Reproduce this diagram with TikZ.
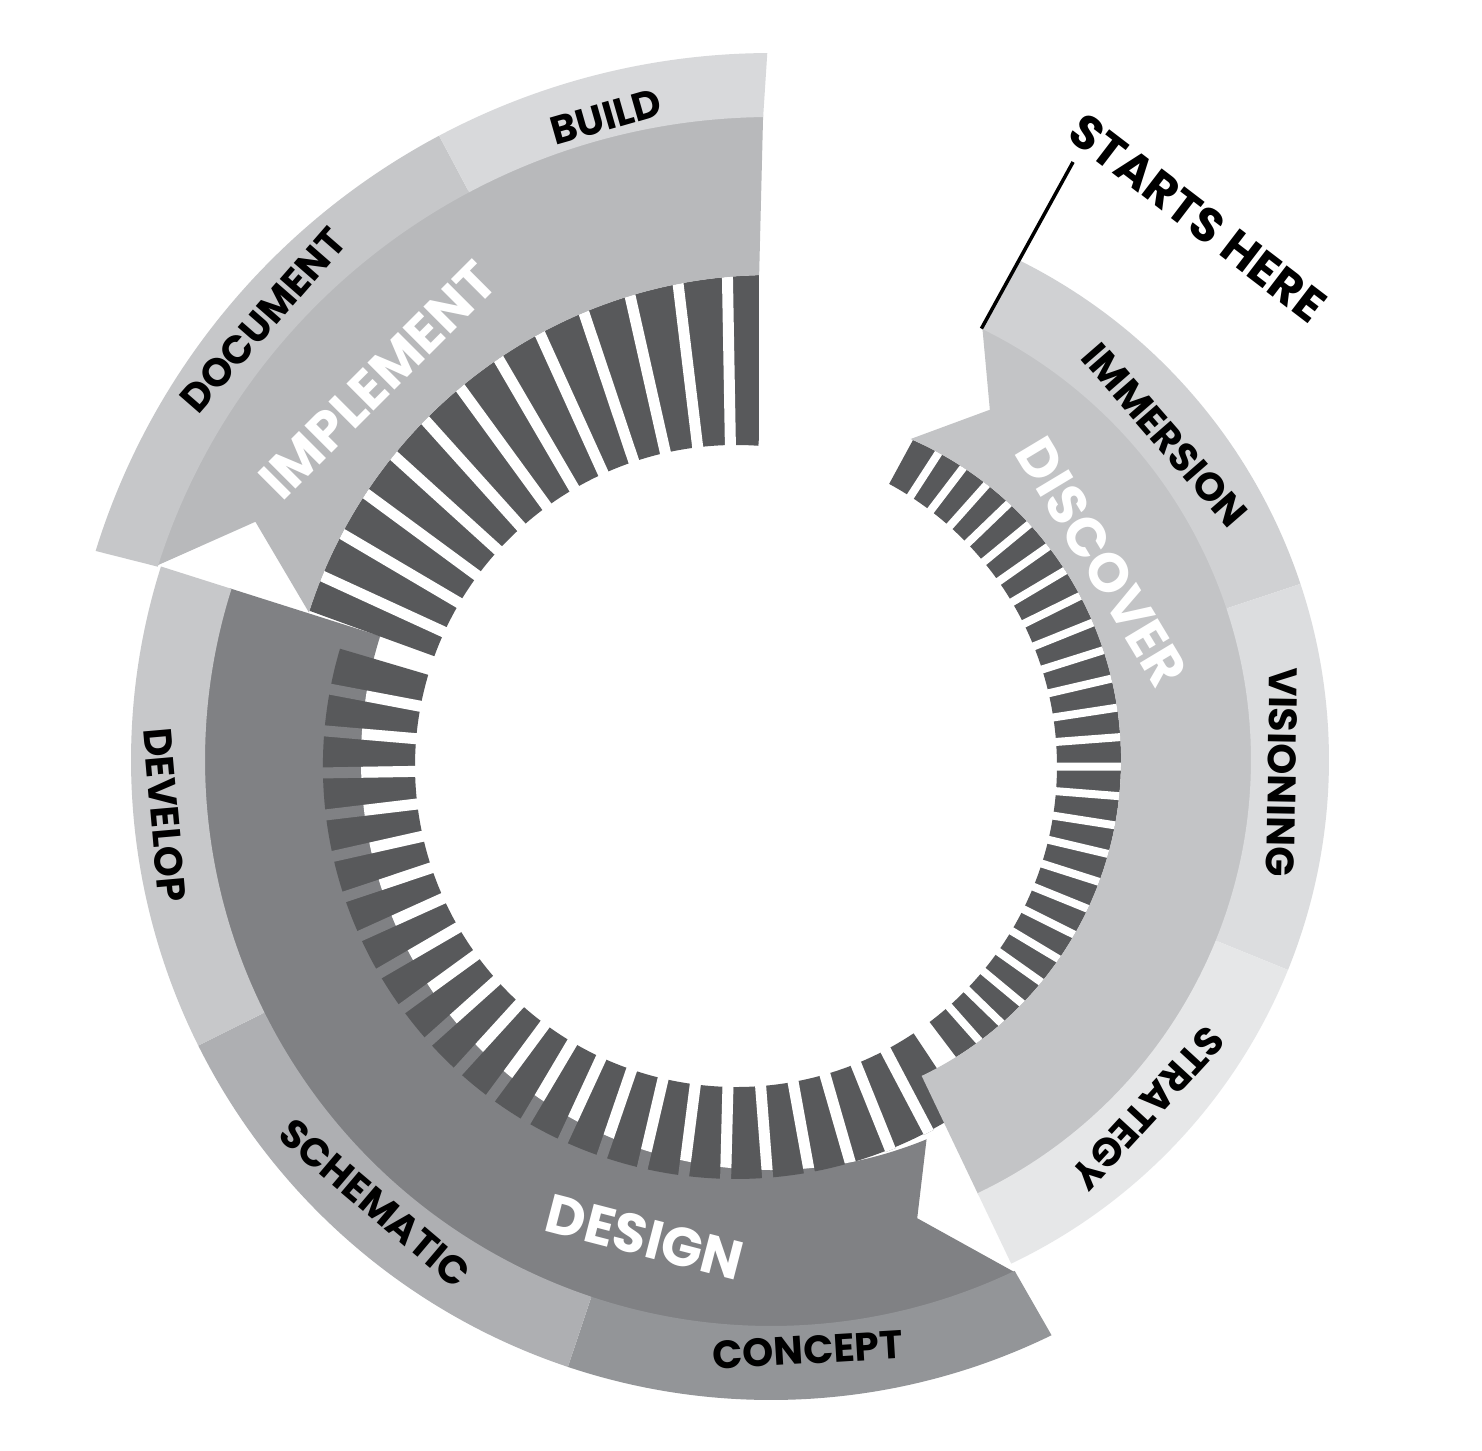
\documentclass[tikz,border=0pt]{standalone}
\usepackage{fontspec}
\setmainfont{Poppins}
\definecolor{barcol}{HTML}{58595B}
\definecolor{discovercol}{HTML}{C3C4C6}
\definecolor{immersioncol}{HTML}{D0D1D3}
\definecolor{visioningcol}{HTML}{DCDDDF}
\definecolor{strategycol}{HTML}{E6E7E8}
\definecolor{designcol}{HTML}{808184}
\definecolor{conceptcol}{HTML}{939598}
\definecolor{schematiccol}{HTML}{AEAFB2}
\definecolor{developcol}{HTML}{C7C8CA}
\definecolor{implementcol}{HTML}{B8B9BB}
\definecolor{documentcol}{HTML}{C6C7C9}
\definecolor{buildcol}{HTML}{D8D9DB}
\begin{document}
\begin{tikzpicture}[x=0.02cm, y=0.02cm,
    phase/.style={font=\bfseries\fontsize{31}{31}\selectfont, text=white, inner sep=0pt},
    stage/.style={font=\bfseries\fontsize{22.5}{22.5}\selectfont, text=black, inner sep=0pt}]
    \fill[white] (-771,-691) rectangle (711,760);

    % design
    \fill[designcol] (-64.5:568) -- (-72.3:481) -- (-67.7:410) arc[start angle=-67.7, end angle=-197.6, radius=410] -- (-197.6:568) arc[start angle=-197.6, end angle=-64.5, radius=568] -- cycle;
    \fill[conceptcol] (-64:640) arc[start angle=-64, end angle=-108.5, radius=640] -- (-108.5:566) arc[start angle=-108.5, end angle=-64.5, radius=566] -- cycle;
    \fill[schematiccol] (-108.5:640) arc[start angle=-108.5, end angle=-153.5, radius=640] -- (-153.5:566) arc[start angle=-153.5, end angle=-108.5, radius=566] -- cycle;
    \fill[developcol] (-153.5:640) arc[start angle=-153.5, end angle=-197.6, radius=640] -- (-197.6:566) arc[start angle=-197.6, end angle=-153.5, radius=566] -- cycle;
    \begin{scope}[shift={(-35,-6)}]
        \fill[barcol] (-56.4:321) arc[start angle=-56.4, end angle=-196.5, radius=321] -- (-196.5:413) arc[start angle=-196.5, end angle=-56.4, radius=413] -- cycle;
        \foreach \a in {1,...,23}
            \draw[designcol, line width=0.22cm] ({-56.4-5.84*\a}:321) -- ({-56.4-5.84*\a}:414);
        \clip (35,6) circle (410);
        \foreach \a in {1,...,23}
            \draw[white, line width=0.22cm] ({-56.4-5.84*\a}:315) -- ({-56.4-5.84*\a}:414);
    \end{scope}

    % discover
    \begin{scope}[shift={(-35,-6)}]
        \clip (35,6) circle (350);
        \fill[barcol] (61.5:321) arc[start angle=61.5, end angle=-52.9, radius=321] -- (-52.9:420) arc[start angle=-52.9, end angle=61.5, radius=420] -- cycle;
        \foreach \a in {1,...,25}
            \draw[white, line width=0.16cm] ({61.5-4.4*\a}:315) -- ({61.5-4.4*\a}:425);
    \end{scope}
    \fill[discovercol] (64:482) -- (58:413) -- (66.5:350) arc[start angle=66.5, end angle=-64.5, radius=350] -- (-64.5:482) arc[start angle=-64.5, end angle=64, radius=482] -- cycle;
    \fill[immersioncol] (63.6:558) arc[start angle=63.6, end angle=18.4, radius=558] -- (18.4:480) arc[start angle=18.4, end angle=64, radius=480] -- cycle;
    \fill[visioningcol] (18.4:558) arc[start angle=18.4, end angle=-22.1, radius=558] -- (-22.1:480) arc[start angle=-22.1, end angle=18.4, radius=480] -- cycle;
    \fill[strategycol] (-22.1:558) arc[start angle=-22.1, end angle=-64.5, radius=558] -- (-64.5:480) arc[start angle=-64.5, end angle=-22.1, radius=480] -- cycle;

    % implement
    \begin{scope}[shift={(-35,-6)}]
        \clip (35,6) circle (485);
        \clip (-800,-800) rectangle (23,800);
        \fill[barcol] (86:321) arc[start angle=86, end angle=160, radius=321] -- (160:520) arc[start angle=160, end angle=86, radius=520] -- cycle;
        \foreach \a in {0,...,11}
            \draw[white, line width=0.22cm] ({91+5.85*\a}:315) -- ({91+5.85*\a}:525);
    \end{scope}
    \fill[implementcol] (162.5:645) -- (155.2:568) -- (162.3:485) arc[start angle=162.3, end angle=91.4, radius=485] -- (90.7:645) arc[start angle=90.7, end angle=162.5, radius=645] -- cycle;
    \fill[documentcol] (162.8:707) arc[start angle=162.8, end angle=118, radius=707] -- (118:643) arc[start angle=118, end angle=162.5, radius=643] -- cycle;
    \fill[buildcol] (118:707) arc[start angle=118, end angle=90.3, radius=707] -- (90.7:643) arc[start angle=90.7, end angle=118, radius=643] -- cycle;

    \node[phase, rotate=-59] (discover) at (331,198) {DISCOVER};
    \node[phase, rotate=-14.5] (design) at (-126,-477) {DESIGN};
    \node[phase, rotate=45] (implement) at (-393,380) {IMPLEMENT};
    \node[stage, rotate=-49] (immersion) at (394,325) {IMMERSION};
    \node[stage, rotate=-91] (visioning) at (511,-12) {VISIONING};
    \node[stage, rotate=-132.6] (strategy) at (377,-348) {STRATEGY};
    \node[stage, rotate=3.5] (concept) at (37,-590) {CONCEPT};
    \node[stage, rotate=-40.3] (schematic) at (-396,-443) {SCHEMATIC};
    \node[stage, rotate=-85] (develop) at (-606,-55) {DEVELOP};
    \node[stage, rotate=48.9] (document) at (-508,440) {DOCUMENT};
    \node[stage, rotate=16] (build) at (-165,643) {BUILD};
    \node[stage, font=\bfseries\fontsize{27}{27}\selectfont, rotate=-37.4] (starts) at (427,542) {STARTS HERE};

    \coordinate (tip) at (64:480);
    \coordinate (flag) at (63.2:670);
    \draw[line width=0.07cm] (tip) -- (flag);
\end{tikzpicture}
\end{document}
